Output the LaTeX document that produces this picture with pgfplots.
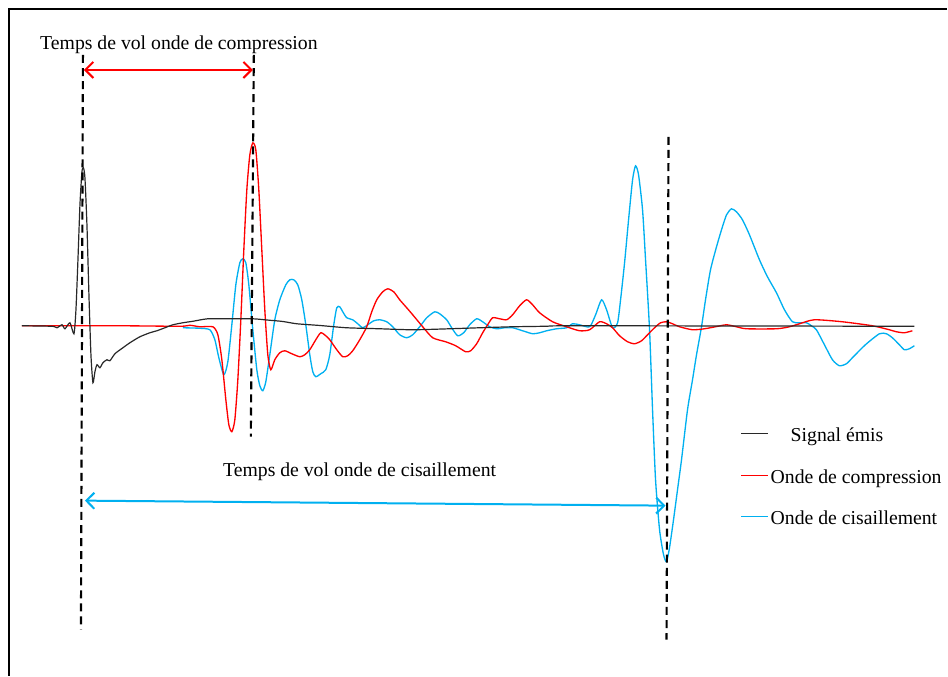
\documentclass[border=0pt]{standalone}
\usepackage{fontspec}
\setmainfont{Liberation Serif}
\usepackage{pgfplots}
\pgfplotsset{compat=1.18}
\usetikzlibrary{arrows.meta}

\definecolor{sigblack}{RGB}{40,40,40}
\definecolor{compred}{RGB}{255,0,0}
\definecolor{shearblue}{RGB}{0,176,240}

\begin{document}
\begin{tikzpicture}
\begin{axis}[
    width=711pt, height=507pt,
    scale only axis,
    xmin=0, xmax=948, ymin=0, ymax=676,
    y dir=reverse,
    hide axis,
    clip=false,
]
% keep the whole frame as bounding box
\path (rel axis cs:0,0) rectangle (rel axis cs:1,1);
% frame (top and left edges)
\draw[line width=1pt] (axis cs:9,676) -- (axis cs:9,9) -- (axis cs:948,9);

% onde de cisaillement
\addplot[shearblue, line width=1pt, smooth, tension=0.4] coordinates {
(183,328) (200,328.5) (210,330) (215,340) (219,358) (224,375) (228,362) (232,325)
(236,285) (240,263) (243,259) (246,263) (249,285) (253,330) (257,370) (260,386)
(263,391) (266,382) (270,355) (275,320) (280,300) (286,285) (290,280) (294,280)
(298,285) (302,300) (306,325) (310,355) (313,372) (316,377) (321,374) (326,370)
(330,355) (334,325) (337,308) (340,307) (343,312) (347,318) (353,320) (358,324)
(363,328) (368,325) (374,321) (380,320) (387,322) (393,327) (400,335) (407,338)
(413,335) (420,327) (427,318) (435,312) (440,314) (447,320) (452,328) (458,336)
(464,333) (470,325) (477,319) (483,322) (490,327) (497,329) (505,328) (513,328)
(523,331) (533,334) (540,333) (547,331) (557,329) (567,328) (573,324) (580,325)
(590,327) (596,315) (602,300) (607,310) (613,328) (618,323) (621,300) (625,263)
(629,220) (633,180) (636,166) (639,175) (643,210) (646,260) (650,330) (653,410)
(656,480) (660,530) (664,555) (667,562) (670,548) (674,520) (678,490) (682,460)
(688,410) (693,380) (697,355) (702,327) (706,300) (711,270) (717,247) (722,230)
(727,215) (732,209) (737,212) (743,220) (750,235) (760,260) (768,277) (777,293)
(785,310) (793,322) (800,323) (807,323) (812,326) (817,330) (825,345) (833,360)
(840,366) (847,364) (853,358) (866,345) (880,334) (887,334) (893,338) (900,345)
(905,350) (910,349) (915,346)
};

% onde de compression
\addplot[compred, line width=1pt, smooth, tension=0.4] coordinates {
(22,326) (120,326) (180,326.5) (190,325.5) (200,327) (213,327) (218,335) (222,360)
(226,400) (229,425) (232,432) (235,420) (238,380) (241,320) (244,250) (247,190)
(250,155) (253,143) (256,150) (259,190) (262,250) (265,310) (268,355) (271,370)
(275,360) (280,353) (285,351) (292,354) (300,357) (305,355) (310,350) (316,340)
(321,333) (326,336) (330,340) (337,350) (343,357) (348,356) (353,351) (360,340)
(367,327) (372,312) (377,300) (383,292) (388,289) (394,292) (400,300) (407,308)
(413,315) (423,327) (433,338) (446,342) (456,346) (466,352) (471,351) (477,344)
(483,333) (488,325) (493,318) (500,319) (507,320) (513,315) (520,306) (527,300)
(533,305) (540,313) (553,322) (567,327) (580,331) (590,330) (600,322) (607,324)
(613,328) (620,336) (628,342) (635,344) (642,341) (648,335) (655,328) (661,323)
(667,322) (673,324) (680,327) (693,330) (705,329) (716,327) (727,325) (737,327)
(747,329) (777,329) (790,327) (800,324) (815,320) (843,322) (873,326) (890,330)
(897,332) (905,333) (913,331)
};

% signal emis
\addplot[sigblack, line width=0.9pt, smooth, tension=0.4] coordinates {
(22,326) (52,326.5) (57,328) (62,325) (65,329) (70,323) (74,334) (76,310)
(78,260) (80,205) (82,172) (83.5,168) (85,178) (87,225) (89,295) (91,355) (93,383)
(95,372) (97,365) (100,368) (103,363) (107,360) (110,361) (115,354) (123,348)
(130,343) (140,337) (150,333) (157,331) (165,328) (173,325) (183,323) (193,321.5)
(208,319) (230,319) (253,319) (270,320.5) (283,321.7) (297,324) (320,325.7)
(347,328) (380,329) (413,330) (450,329) (480,328) (513,327) (546,326.5)
(580,326) (915,326.5)
};

% vertical markers
\draw[line width=1.6pt, dash pattern=on 6pt off 3.8pt] (axis cs:83,55) -- (axis cs:81,630);
\draw[line width=1.6pt, dash pattern=on 6pt off 3.8pt] (axis cs:254,55) -- (axis cs:251,437);
\draw[line width=1.6pt, dash pattern=on 6pt off 3.8pt] (axis cs:669,137) -- (axis cs:667,640);

% time of flight arrows
\draw[compred, line width=1.5pt, {Straight Barb[length=6pt,width=12pt]}-{Straight Barb[length=6pt,width=12pt]}]
    (axis cs:84,70) -- (axis cs:253,70);
\draw[shearblue, line width=1.5pt, {Straight Barb[length=6pt,width=12pt]}-{Straight Barb[length=6pt,width=12pt]}]
    (axis cs:85,501) -- (axis cs:666,506);

\node[anchor=base west, inner sep=0pt, font=\fontsize{14.8}{17}\selectfont]
    at (axis cs:40,50) {Temps de vol onde de compression};
\node[anchor=base west, inner sep=0pt, font=\fontsize{14.8}{17}\selectfont]
    at (axis cs:223,477) {Temps de vol onde de cisaillement};

% legend
\draw[sigblack, line width=0.9pt] (axis cs:742,434) -- (axis cs:769,434);
\draw[compred, line width=0.9pt] (axis cs:742,476) -- (axis cs:769,476);
\draw[shearblue, line width=0.9pt] (axis cs:742,517) -- (axis cs:769,517);
\node[anchor=base west, inner sep=0pt, font=\fontsize{14.8}{17}\selectfont]
    at (axis cs:791,441.5) {Signal émis};
\node[anchor=base west, inner sep=0pt, font=\fontsize{14.8}{17}\selectfont]
    at (axis cs:771,483.5) {Onde de compression};
\node[anchor=base west, inner sep=0pt, font=\fontsize{14.8}{17}\selectfont]
    at (axis cs:771,525) {Onde de cisaillement};
\end{axis}
\end{tikzpicture}
\end{document}
